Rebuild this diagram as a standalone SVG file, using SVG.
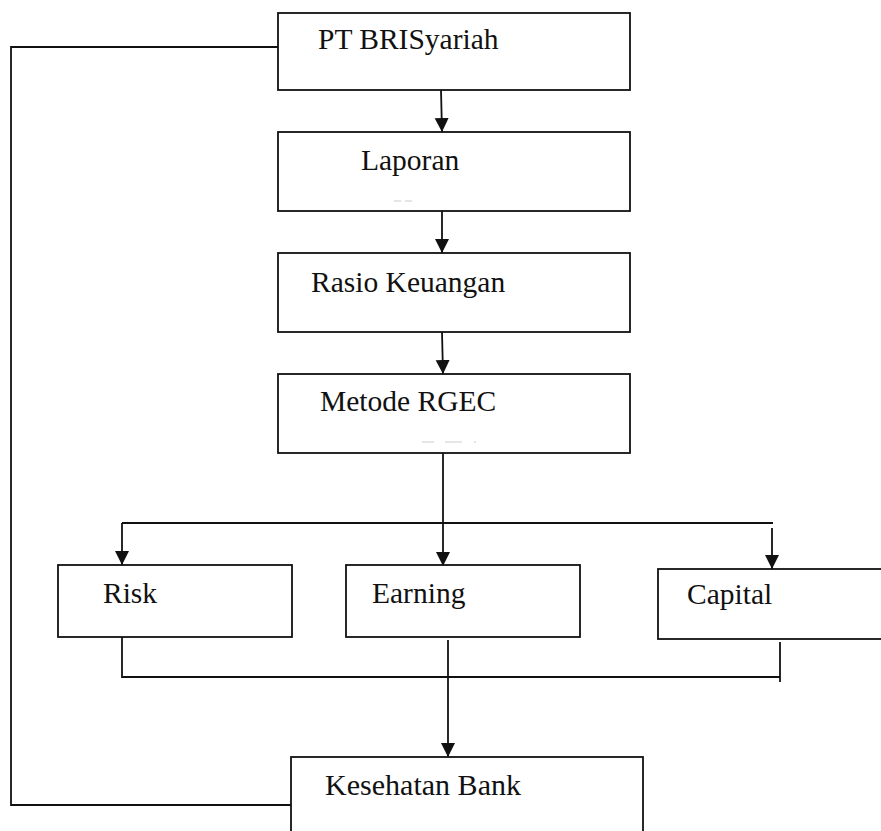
<svg xmlns="http://www.w3.org/2000/svg" width="881" height="831" viewBox="0 0 881 831">
<style>
.box{fill:#fff;stroke:#111;stroke-width:1.8}
.ln{fill:none;stroke:#111;stroke-width:1.8}
.arr{fill:none;stroke:#111;stroke-width:1.8;marker-end:url(#ah)}
.t{font-family:"Liberation Serif","Times New Roman",serif;font-size:29.5px;fill:#111}
.g{stroke:#ccc;stroke-width:1}
</style>
<defs>
<marker id="ah" markerUnits="userSpaceOnUse" markerWidth="14" markerHeight="16" refX="14" refY="7" orient="auto">
<path d="M0,0 L14,7 L0,14 Z" fill="#111"/>
</marker>
</defs>
<rect width="881" height="831" fill="#fff"/>
<g id="connectors">
<polyline class="ln" points="278,47 11,47 11,805 291,805"/>
<line class="arr" x1="441" y1="90" x2="442" y2="132"/>
<line class="arr" x1="442" y1="211" x2="442" y2="253"/>
<line class="arr" x1="442" y1="332" x2="443" y2="374"/>
<line class="ln" x1="443" y1="453" x2="443" y2="523"/>
<line class="ln" x1="122" y1="523" x2="773" y2="523"/>
<line class="arr" x1="122" y1="523" x2="122" y2="565"/>
<line class="arr" x1="443" y1="523" x2="443" y2="566"/>
<line class="arr" x1="772" y1="528" x2="772" y2="569"/>
<line class="ln" x1="122" y1="637" x2="122" y2="678"/>
<line class="ln" x1="122" y1="677" x2="780" y2="677"/>
<line class="ln" x1="780" y1="642" x2="780" y2="682"/>
<line class="arr" x1="448" y1="640" x2="448" y2="757"/>
</g>
<g id="n1"><rect class="box" x="278" y="13" width="352" height="77"/><text class="t" x="318" y="49">PT BRISyariah</text></g>
<g id="n2"><rect class="box" x="278" y="132" width="352" height="79"/><text class="t" x="361" y="170">Laporan</text>
<line class="g" x1="394" y1="201" x2="401" y2="201"/><line class="g" x1="405" y1="201" x2="412" y2="201"/></g>
<g id="n3"><rect class="box" x="278" y="253" width="352" height="79"/><text class="t" x="311" y="292">Rasio Keuangan</text></g>
<g id="n4"><rect class="box" x="278" y="374" width="352" height="79"/><text class="t" x="320" y="411">Metode RGEC</text>
<line class="g" x1="422" y1="442" x2="434" y2="442"/><line class="g" x1="445" y1="442" x2="462" y2="442"/><line class="g" x1="474" y1="442" x2="476" y2="442"/></g>
<g id="n5"><rect class="box" x="58" y="565" width="234" height="72"/><text class="t" x="103" y="603">Risk</text></g>
<g id="n6"><rect class="box" x="346" y="565" width="234" height="72"/><text class="t" x="372" y="603">Earning</text></g>
<g id="n7"><rect class="box" x="658" y="569" width="240" height="70"/><text class="t" x="687" y="604">Capital</text></g>
<g id="n8"><rect class="box" x="291" y="757" width="352" height="90"/><text class="t" x="325" y="795" textLength="196" lengthAdjust="spacingAndGlyphs">Kesehatan Bank</text></g>
</svg>
